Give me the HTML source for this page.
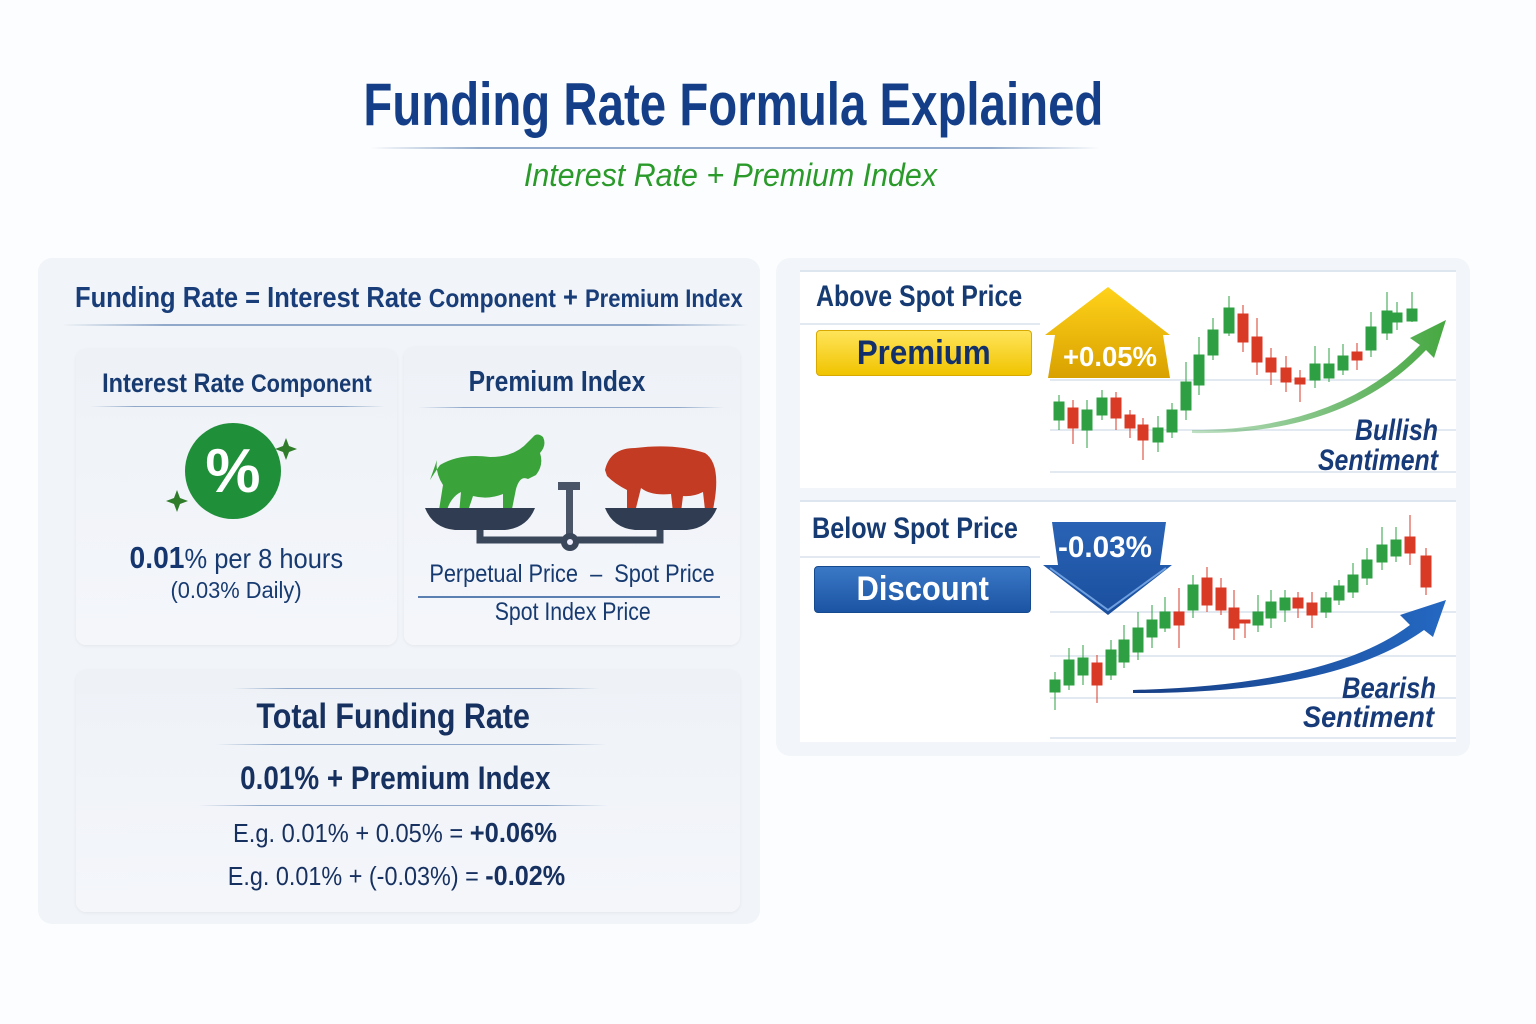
<!DOCTYPE html>
<html><head><meta charset="utf-8"><style>
*{margin:0;padding:0;box-sizing:border-box}
body{width:1536px;height:1024px;background:#fcfdfe;position:relative;overflow:hidden;font-family:"Liberation Sans",sans-serif;color:#163a72}
.a{position:absolute}
.c{text-align:center;white-space:nowrap}
.s{display:inline-block;white-space:nowrap;transform:scaleX(var(--k));transform-origin:center}
.l{transform-origin:left}
.ln{position:absolute;height:2px;background:linear-gradient(90deg,rgba(120,150,190,0),rgba(120,150,190,.8) 15%,rgba(120,150,190,.8) 85%,rgba(120,150,190,0))}
.box{position:absolute;border-radius:10px;background:linear-gradient(180deg,#eef2f7,#f4f6fa);box-shadow:0 1px 3px rgba(0,0,0,.06)}
b{font-weight:bold}
</style></head><body>
<div class="a c" style="left:0;width:1466px;top:70px;font-size:60px;font-weight:bold;color:#143f88"><span class="s" style="--k:.79">Funding Rate Formula Explained</span></div>
<div class="ln" style="left:370px;width:730px;top:147px"></div>
<div class="a c" style="left:0;width:1460px;top:157px;font-size:32px;font-style:italic;color:#2a9a2a"><span class="s" style="--k:.95">Interest Rate + Premium Index</span></div>

<!-- left panel -->
<div class="a" style="left:38px;top:258px;width:722px;height:666px;border-radius:14px;background:#f1f4f8"></div>
<div class="a" style="left:75px;top:282px;font-size:29px;font-weight:bold;color:#183d78;white-space:nowrap"><span class="s l" style="--k:.88">Funding Rate = Interest Rate <span style="font-size:26px">Component</span> + <span style="font-size:25px">Premium Index</span></span></div>
<div class="ln" style="left:62px;width:686px;top:324px"></div>

<div class="box" style="left:76px;top:349px;width:321px;height:296px"></div>
<div class="a c" style="left:76px;width:321px;top:368px;font-size:27px;font-weight:bold;color:#173a70"><span class="s" style="--k:.87">Interest Rate <span style="font-size:25px">Component</span></span></div>
<div class="ln" style="left:90px;width:295px;top:406px;height:1px"></div>
<svg class="a" style="left:160px;top:420px" width="140" height="110">
<circle cx="73" cy="51" r="48" fill="#1f8f3a"/>
<text x="73" y="72" text-anchor="middle" font-family="Liberation Sans" font-weight="bold" font-size="62" fill="#fff">%</text>
<path d="M126 18 l3 8 8 3 -8 3 -3 8 -3 -8 -8 -3 8 -3z" fill="#2f7d2a"/>
<path d="M17 70 l3 8 8 3 -8 3 -3 8 -3 -8 -8 -3 8 -3z" fill="#2f7d2a"/>
</svg>
<div class="a c" style="left:76px;width:321px;top:540px;font-size:28px;color:#173a70"><span class="s" style="--k:.91"><b style="font-size:31px;color:#15356e">0.01</b>% per 8 hours</span></div>
<div class="a c" style="left:76px;width:321px;top:577px;font-size:23px;color:#173a70"><span class="s" style="--k:.95">(0.03% Daily)</span></div>

<div class="box" style="left:404px;top:347px;width:336px;height:298px"></div>
<div class="a c" style="left:404px;width:306px;top:366px;font-size:29px;font-weight:bold;color:#173a70"><span class="s" style="--k:.85">Premium Index</span></div>
<div class="ln" style="left:418px;width:306px;top:407px;height:1px"></div>
<svg class="a" style="left:420px;top:430px" width="305" height="130">
<path d="M10 50 q5 -8 10 -15 q20 -12 50 -8 q25 0 38 -15 l5 -5 q4 -5 10 0 q4 8 -3 16 q4 12 -4 22 l-8 4 q-8 -4 -12 10 l-5 25 h-8 l0 -20 q-15 6 -30 2 l-6 18 h-8 l2 -22 q-10 5 -14 18 h-8 l4 -25 q-8 -12 -6 -25z" fill="#3aa33a"/>
<path d="M185 40 q5 -22 30 -22 q40 -5 70 5 q15 10 10 45 l-2 12 h-8 l-2 -18 q-10 5 -20 4 l-2 16 h-8 l-2 -18 q-20 2 -30 -6 l-6 24 h-8 l0 -22 q-12 -6 -20 -14z" fill="#c23b22"/>
<path d="M5 78 h110 q-8 20 -30 22 h-50 q-22 -2 -30 -22z" fill="#2f3c52"/>
<path d="M185 78 h112 q-8 20 -30 22 h-52 q-22 -2 -30 -22z" fill="#2f3c52"/>
<rect x="138" y="52" width="22" height="8" fill="#4a5568"/><rect x="146" y="58" width="7" height="55" fill="#4a5568"/>
<path d="M60 100 v10 h180 v-10" stroke="#3a465a" stroke-width="7" fill="none"/>
<circle cx="150" cy="112" r="9" fill="#3a465a"/><circle cx="150" cy="112" r="3" fill="#eef"/>
</svg>
<div class="a c" style="left:408px;width:320px;top:560px;font-size:25px;color:#173a70"><span class="s" style="--k:.87">Perpetual Price &nbsp;– &nbsp;Spot Price</span></div>
<div class="a" style="left:418px;width:302px;top:596px;height:2px;background:#5b7fb0"></div>
<div class="a c" style="left:404px;width:338px;top:598px;font-size:25px;color:#173a70"><span class="s" style="--k:.85">Spot Index Price</span></div>

<div class="box" style="left:76px;top:670px;width:664px;height:242px"></div>
<div class="ln" style="left:232px;width:368px;top:688px;height:1px"></div>
<div class="a c" style="left:76px;width:634px;top:697px;font-size:35px;font-weight:bold;color:#16305f"><span class="s" style="--k:.87">Total Funding Rate</span></div>
<div class="ln" style="left:216px;width:390px;top:744px;height:1px"></div>
<div class="a c" style="left:76px;width:638px;top:760px;font-size:32px;font-weight:bold;color:#16305f"><span class="s" style="--k:.87">0.01% + Premium Index</span></div>
<div class="ln" style="left:198px;width:410px;top:805px;height:1px"></div>
<div class="a c" style="left:76px;width:638px;top:817px;font-size:26px;color:#16305f"><span class="s" style="--k:.91">E.g. 0.01% + 0.05% = <b style="font-size:28px">+0.06%</b></span></div>
<div class="a c" style="left:76px;width:641px;top:860px;font-size:26px;color:#16305f"><span class="s" style="--k:.9">E.g. 0.01% + (-0.03%) = <b style="font-size:28px">-0.02%</b></span></div>

<!-- right panel -->
<div class="a" style="left:776px;top:258px;width:694px;height:498px;border-radius:14px;background:#f2f5f9"></div>
<div class="a" style="left:800px;top:270px;width:656px;height:218px;background:#fff;border-top:2px solid #dde5ef"></div>
<div class="a" style="left:800px;top:500px;width:656px;height:242px;background:#fff;border-top:2px solid #dde5ef"></div>
<div class="a" style="left:816px;top:280px;font-size:30px;font-weight:bold;color:#163a72"><span class="s l" style="--k:.83">Above Spot Price</span></div>
<div class="a" style="left:800px;top:323px;width:240px;height:2px;background:#e3e9f1"></div>
<div class="a c" style="left:816px;top:330px;width:216px;height:46px;border-radius:4px;background:linear-gradient(#ffe45a,#f0c400);border:1px solid #d8a900;font-size:34px;font-weight:bold;color:#14306a;line-height:44px"><span class="s" style="--k:.92">Premium</span></div>
<div class="a" style="left:812px;top:512px;font-size:30px;font-weight:bold;color:#163a72"><span class="s l" style="--k:.84">Below Spot Price</span></div>
<div class="a" style="left:800px;top:556px;width:240px;height:2px;background:#e3e9f1"></div>
<div class="a c" style="left:814px;top:566px;width:217px;height:47px;border-radius:4px;background:linear-gradient(#3a78c6,#1b54a3);border:1px solid #164a8f;font-size:34px;font-weight:bold;color:#fff;line-height:45px"><span class="s" style="--k:.91">Discount</span></div>

<svg class="a" style="left:0;top:0" width="1536" height="1024">
<defs>
<linearGradient id="gy" x1="0" y1="0" x2="0" y2="1"><stop offset="0" stop-color="#ffd21a"/><stop offset="1" stop-color="#d9a100"/></linearGradient>
<linearGradient id="gb" x1="0" y1="0" x2="0" y2="1"><stop offset="0" stop-color="#2a63b5"/><stop offset="1" stop-color="#1a4f9e"/></linearGradient>
<linearGradient id="ga" x1="0" y1="0" x2="1" y2="0"><stop offset="0" stop-color="#2f9a3a" stop-opacity=".3"/><stop offset="1" stop-color="#46a840"/></linearGradient>
<linearGradient id="gc" x1="0" y1="0" x2="1" y2="0"><stop offset="0" stop-color="#173f85"/><stop offset="1" stop-color="#2468c2"/></linearGradient>
</defs>
<g stroke="#e3e9f1" stroke-width="2">
<line x1="1050" y1="380" x2="1456" y2="380"/><line x1="1050" y1="430" x2="1456" y2="430"/><line x1="1050" y1="472" x2="1456" y2="472"/>
<line x1="1050" y1="612" x2="1456" y2="612"/><line x1="1050" y1="656" x2="1456" y2="656"/><line x1="1050" y1="698" x2="1456" y2="698"/><line x1="1050" y1="738" x2="1456" y2="738"/>
</g>
<path d="M1108 287 L1170 335 L1163 335 L1170 378 L1048 378 L1055 335 L1045 335 Z" fill="url(#gy)"/>
<text x="1110" y="366" text-anchor="middle" font-family="Liberation Sans,sans-serif" font-weight="bold" font-size="28" fill="#fff" textLength="94" lengthAdjust="spacingAndGlyphs">+0.05%</text>
<path d="M1052 522 L1166 522 L1160 565 L1172 565 L1108 615 L1043 565 L1058 565 Z" fill="url(#gb)"/>
<path d="M1050 568 L1108 610 L1166 568" stroke="#6fa0e0" stroke-width="2" fill="none"/>
<text x="1105" y="557" text-anchor="middle" font-family="Liberation Sans,sans-serif" font-weight="bold" font-size="30" fill="#fff" textLength="94" lengthAdjust="spacingAndGlyphs">-0.03%</text>
<path d="M1192 430 Q1340 430 1420 345 L1410 338 L1446 320 L1434 358 L1426 350 Q1345 436 1192 433Z" fill="url(#ga)"/>
<path d="M1133 690 Q1330 685 1410 625 L1400 615 L1446 600 L1433 637 L1424 630 Q1335 694 1133 693Z" fill="url(#gc)"/>
<g>
<g fill="#2ea043" stroke="#2ea043">
<line x1="1059" y1="395" x2="1059" y2="430"/><rect x="1054" y="402" width="10" height="18"/>
<line x1="1087" y1="400" x2="1087" y2="448"/><rect x="1082" y="410" width="10" height="20"/>
<line x1="1102" y1="390" x2="1102" y2="420"/><rect x="1097" y="398" width="10" height="17"/>
<line x1="1158" y1="416" x2="1158" y2="452"/><rect x="1153" y="428" width="10" height="14"/>
<line x1="1172" y1="403" x2="1172" y2="438"/><rect x="1167" y="410" width="10" height="22"/>
<line x1="1186" y1="362" x2="1186" y2="420"/><rect x="1181" y="382" width="10" height="28"/>
<line x1="1199" y1="337" x2="1199" y2="395"/><rect x="1194" y="355" width="10" height="30"/>
<line x1="1213" y1="318" x2="1213" y2="360"/><rect x="1208" y="330" width="10" height="25"/>
<line x1="1229" y1="296" x2="1229" y2="336"/><rect x="1224" y="308" width="10" height="25"/>
<line x1="1315" y1="346" x2="1315" y2="388"/><rect x="1310" y="364" width="10" height="16"/>
<line x1="1329" y1="348" x2="1329" y2="382"/><rect x="1324" y="364" width="10" height="14"/>
<line x1="1343" y1="344" x2="1343" y2="375"/><rect x="1338" y="356" width="10" height="14"/>
<line x1="1371" y1="312" x2="1371" y2="357"/><rect x="1366" y="327" width="10" height="23"/>
<line x1="1387" y1="292" x2="1387" y2="340"/><rect x="1382" y="311" width="10" height="22"/>
<line x1="1397" y1="302" x2="1397" y2="330"/><rect x="1392" y="313" width="10" height="9"/>
<line x1="1412" y1="292" x2="1412" y2="322"/><rect x="1407" y="309" width="10" height="12"/>
<line x1="1055" y1="672" x2="1055" y2="710"/><rect x="1050" y="680" width="10" height="12"/>
<line x1="1069" y1="648" x2="1069" y2="690"/><rect x="1064" y="660" width="10" height="25"/>
<line x1="1083" y1="645" x2="1083" y2="685"/><rect x="1078" y="658" width="10" height="17"/>
<line x1="1111" y1="640" x2="1111" y2="680"/><rect x="1106" y="650" width="10" height="25"/>
<line x1="1124" y1="625" x2="1124" y2="668"/><rect x="1119" y="640" width="10" height="22"/>
<line x1="1138" y1="612" x2="1138" y2="660"/><rect x="1133" y="628" width="10" height="24"/>
<line x1="1152" y1="605" x2="1152" y2="648"/><rect x="1147" y="620" width="10" height="17"/>
<line x1="1165" y1="597" x2="1165" y2="632"/><rect x="1160" y="612" width="10" height="16"/>
<line x1="1193" y1="575" x2="1193" y2="618"/><rect x="1188" y="585" width="10" height="25"/>
<line x1="1258" y1="595" x2="1258" y2="632"/><rect x="1253" y="612" width="10" height="13"/>
<line x1="1271" y1="590" x2="1271" y2="628"/><rect x="1266" y="602" width="10" height="16"/>
<line x1="1285" y1="590" x2="1285" y2="622"/><rect x="1280" y="598" width="10" height="12"/>
<line x1="1326" y1="592" x2="1326" y2="618"/><rect x="1321" y="598" width="10" height="14"/>
<line x1="1339" y1="580" x2="1339" y2="605"/><rect x="1334" y="586" width="10" height="14"/>
<line x1="1353" y1="563" x2="1353" y2="598"/><rect x="1348" y="575" width="10" height="17"/>
<line x1="1367" y1="548" x2="1367" y2="585"/><rect x="1362" y="560" width="10" height="18"/>
<line x1="1382" y1="527" x2="1382" y2="570"/><rect x="1377" y="545" width="10" height="17"/>
<line x1="1396" y1="527" x2="1396" y2="562"/><rect x="1391" y="540" width="10" height="16"/>
</g>
<g fill="#d93a26" stroke="#d93a26">
<line x1="1073" y1="400" x2="1073" y2="444"/><rect x="1068" y="408" width="10" height="20"/>
<line x1="1116" y1="392" x2="1116" y2="430"/><rect x="1111" y="398" width="10" height="20"/>
<line x1="1130" y1="410" x2="1130" y2="438"/><rect x="1125" y="415" width="10" height="13"/>
<line x1="1143" y1="418" x2="1143" y2="460"/><rect x="1138" y="425" width="10" height="15"/>
<line x1="1243" y1="305" x2="1243" y2="352"/><rect x="1238" y="314" width="10" height="28"/>
<line x1="1257" y1="318" x2="1257" y2="375"/><rect x="1252" y="337" width="10" height="25"/>
<line x1="1271" y1="348" x2="1271" y2="385"/><rect x="1266" y="358" width="10" height="14"/>
<line x1="1286" y1="356" x2="1286" y2="392"/><rect x="1281" y="368" width="10" height="14"/>
<line x1="1300" y1="370" x2="1300" y2="402"/><rect x="1295" y="378" width="10" height="6"/>
<line x1="1357" y1="343" x2="1357" y2="370"/><rect x="1352" y="352" width="10" height="8"/>
<line x1="1097" y1="655" x2="1097" y2="703"/><rect x="1092" y="663" width="10" height="22"/>
<line x1="1179" y1="588" x2="1179" y2="648"/><rect x="1174" y="612" width="10" height="13"/>
<line x1="1207" y1="567" x2="1207" y2="612"/><rect x="1202" y="578" width="10" height="27"/>
<line x1="1221" y1="578" x2="1221" y2="615"/><rect x="1216" y="588" width="10" height="22"/>
<line x1="1234" y1="590" x2="1234" y2="640"/><rect x="1229" y="608" width="10" height="20"/>
<line x1="1245" y1="620" x2="1245" y2="638"/><rect x="1240" y="620" width="10" height="3"/>
<line x1="1298" y1="592" x2="1298" y2="618"/><rect x="1293" y="598" width="10" height="10"/>
<line x1="1312" y1="592" x2="1312" y2="628"/><rect x="1307" y="603" width="10" height="12"/>
<line x1="1410" y1="515" x2="1410" y2="565"/><rect x="1405" y="537" width="10" height="16"/>
<line x1="1426" y1="548" x2="1426" y2="595"/><rect x="1421" y="556" width="10" height="31"/>
</g>
</g>
<g font-family="Liberation Sans,sans-serif" font-weight="bold" font-style="italic" font-size="30" fill="#173a78">
<text x="1355" y="440" textLength="83" lengthAdjust="spacingAndGlyphs">Bullish</text>
<text x="1318" y="470" textLength="120" lengthAdjust="spacingAndGlyphs">Sentiment</text>
<text x="1342" y="698" textLength="94" lengthAdjust="spacingAndGlyphs">Bearish</text>
<text x="1303" y="727" textLength="131" lengthAdjust="spacingAndGlyphs">Sentiment</text>
</g>
</svg>
</body></html>
